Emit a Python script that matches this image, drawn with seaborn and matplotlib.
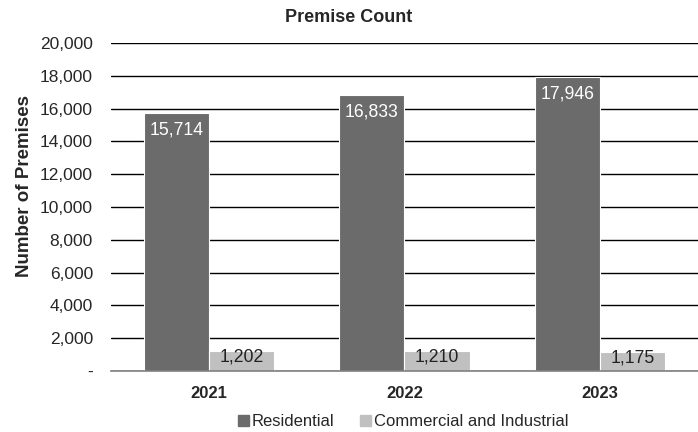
import pandas as pd
import matplotlib
matplotlib.use("Agg")
import matplotlib.pyplot as plt
import seaborn as sns
from matplotlib.ticker import FuncFormatter

# data
years = ["2021", "2022", "2023"]
residential = [15714, 16833, 17946]
commercial = [1202, 1210, 1175]
series_names = ["Residential", "Commercial and Industrial"]

df = pd.DataFrame({
    "Year": years * 2,
    "Premises": residential + commercial,
    "Type": [series_names[0]] * 3 + [series_names[1]] * 3,
})

sns.set_style("white")
plt.rcParams["font.family"] = ["Liberation Sans", "DejaVu Sans"]
plt.rcParams["font.size"] = 12

colors = {"Residential": "#6b6b6b", "Commercial and Industrial": "#c0c0c0"}

fig = plt.figure(figsize=(6.98, 4.32), dpi=100)
ax = fig.add_axes([0.159, 0.141, 0.841, 0.7595])

sns.barplot(data=df, x="Year", y="Premises", hue="Type", palette=colors,
            width=0.667, edgecolor="white", linewidth=0.8, ax=ax, zorder=3,
            legend=False)

ax.set_ylim(0, 20000)
ax.set_xlim(-0.5, 2.5)
ax.set_yticks(range(0, 20001, 2000))
ax.yaxis.set_major_formatter(FuncFormatter(lambda v, p: "-" if v == 0 else f"{int(v):,}"))
ax.yaxis.grid(True, color="black", linewidth=1.0, zorder=0)
ax.set_axisbelow(True)
for s in ["top", "right", "left"]:
    ax.spines[s].set_visible(False)
ax.spines["bottom"].set_color("#808080")
ax.spines["bottom"].set_linewidth(1.2)
ax.spines["bottom"].set_zorder(4)
ax.tick_params(axis="y", length=0, labelsize=12.5, pad=13)
ax.tick_params(axis="x", length=0, labelsize=12, pad=10.5)
for t in ax.get_xticklabels():
    t.set_fontweight("bold")

ax.set_xlabel("")
ax.set_ylabel("")
fig.text(25 / 698, 1 - 186 / 432, "Number of Premises", rotation=90,
         ha="center", va="center", fontsize=13.5, fontweight="bold")
fig.text(0.5, 1 - 17.5 / 432, "Premise Count", ha="center", va="center",
         fontsize=13, fontweight="bold")

# value labels inside the top of each bar
for container, col, off in zip(ax.containers, ["white", "#222222"], [-12.3, -4.4]):
    for bar in container:
        h = bar.get_height()
        ax.annotate(f"{h:,.0f}", (bar.get_x() + bar.get_width() / 2, h),
                    xytext=(0, off), textcoords="offset points",
                    ha="center", va="center", fontsize=12.7, color=col, zorder=5)

handles = [plt.Rectangle((0, 0), 1, 1, color=colors[n]) for n in series_names]
fig.legend(handles, series_names, loc="center", bbox_to_anchor=(403 / 698, 1 - 421.7 / 432),
           ncol=2, frameon=False, fontsize=12, handlelength=0.66, handleheight=0.66,
           handletextpad=0.18, columnspacing=1.55, borderpad=0.1)

fig.savefig("out.png", dpi=100)
